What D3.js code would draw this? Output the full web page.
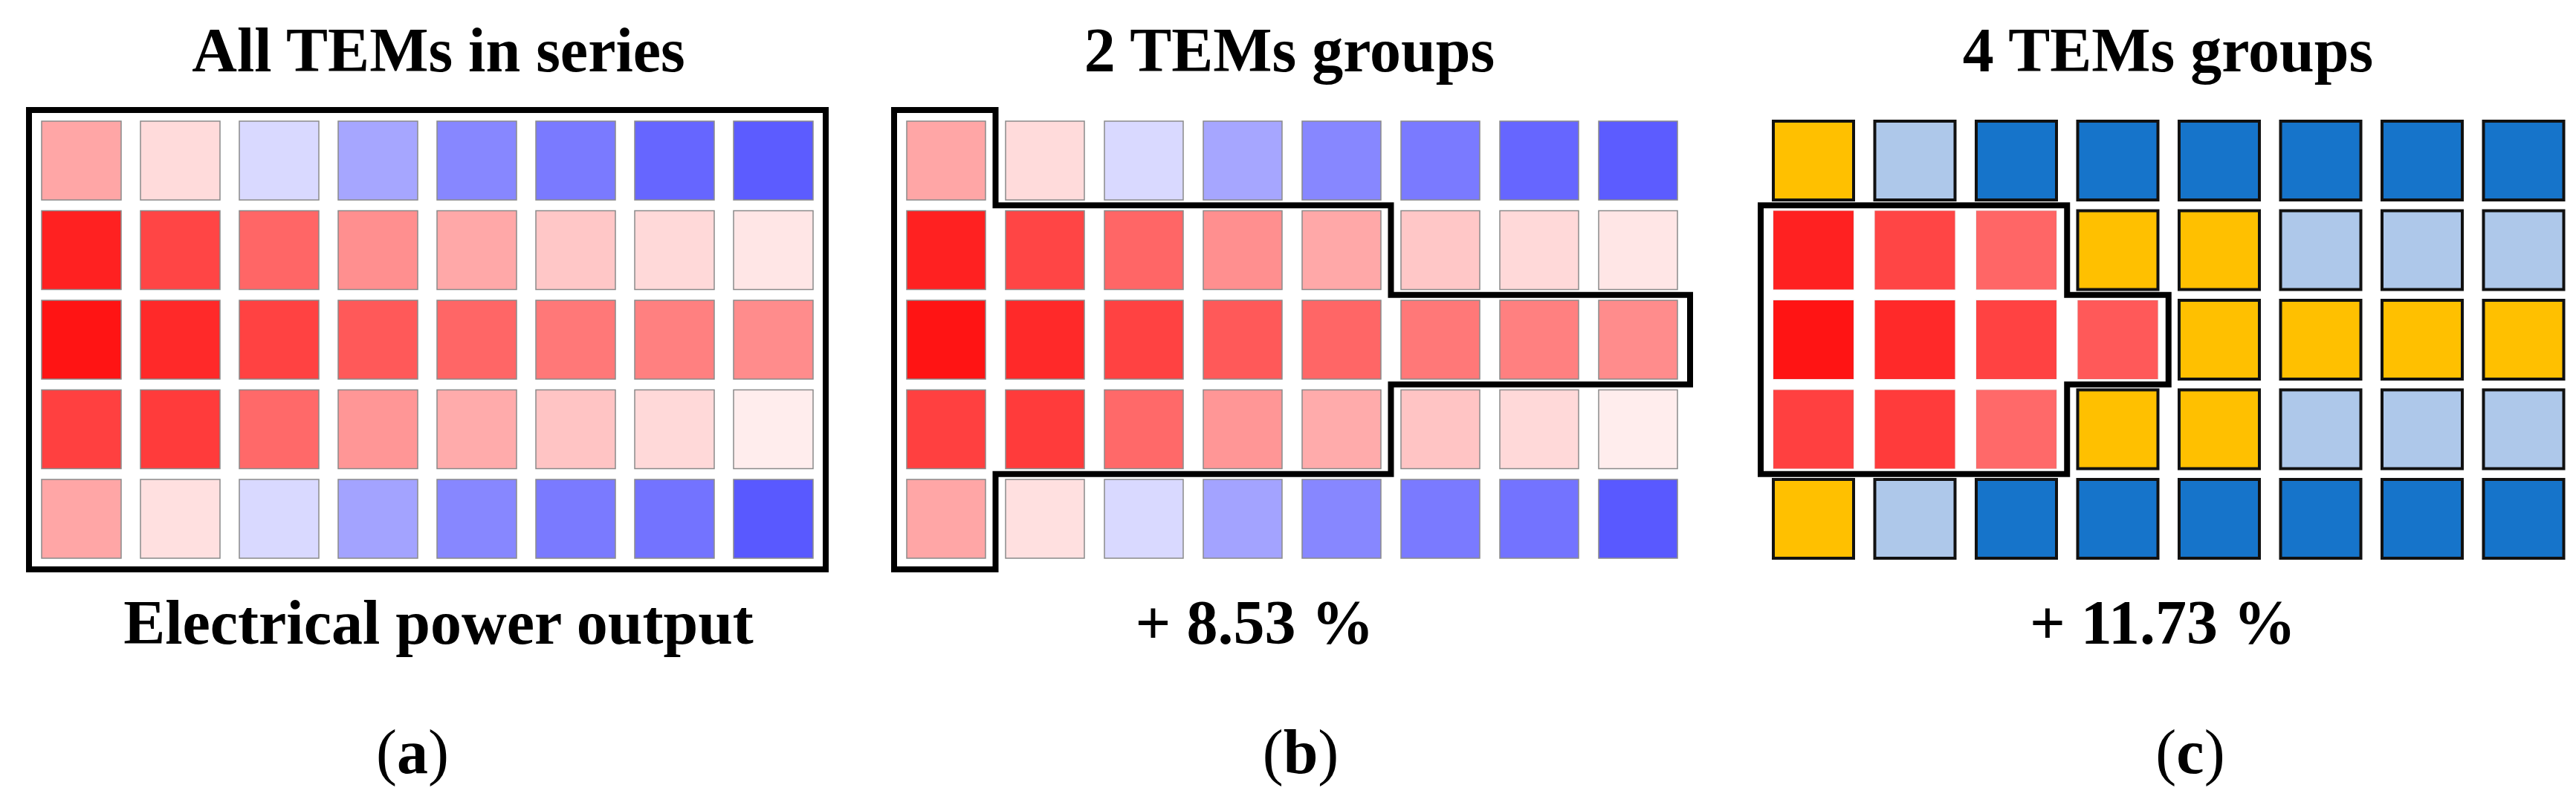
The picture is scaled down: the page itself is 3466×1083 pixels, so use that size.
<!DOCTYPE html>
<html><head><meta charset="utf-8">
<script src="https://cdn.jsdelivr.net/npm/d3@7"></script>
<style>body{margin:0;background:#fff}</style>
</head><body>
<svg id="chart" width="3466" height="1083"></svg>
<script>
// normalized power values per TEM (positive = red, negative = blue)
const row0 = [0.35, 0.14, -0.15, -0.35, -0.47, -0.52, -0.6, -0.64];
const row1 = [0.87, 0.73, 0.6, 0.44, 0.34, 0.22, 0.15, 0.1];
const row2 = [0.92, 0.84, 0.74, 0.65, 0.6, 0.53, 0.5, 0.45];
const row3 = [0.75, 0.77, 0.59, 0.41, 0.33, 0.23, 0.15, 0.07];
const row4 = [0.35, 0.12, -0.15, -0.36, -0.47, -0.52, -0.55, -0.65];
const rows = [row0, row1, row2, row3, row4];

// groups for 4 TEMs groups: 0 = hot group (keeps red), 1 gold, 2 light blue, 3 dark blue
const groups4 = [
  [1, 2, 3, 3, 3, 3, 3, 3],
  [0, 0, 0, 1, 1, 2, 2, 2],
  [0, 0, 0, 0, 1, 1, 1, 1],
  [0, 0, 0, 1, 1, 2, 2, 2],
  [1, 2, 3, 3, 3, 3, 3, 3]
];
const groupColors = {1: "#FFC000", 2: "#AEC8EA", 3: "#1674CA"};

const titles = ["All TEMs in series", "2 TEMs groups", "4 TEMs groups"];
const notes = ["Electrical power output", "+ 8.53 %", "+ 11.73 %"];
const letters = ["a", "b", "c"];

// outlines as [col boundary, row boundary] vertices (boundary k = before column/row k)
const outlineB = [[0,0],[1,0],[1,1],[5,1],[5,2],[8,2],[8,3],[5,3],[5,4],[1,4],[1,5],[0,5]];
const outlineC = [[0,1],[3,1],[3,2],[4,2],[4,3],[3,3],[3,4],[0,4]];

const svg = d3.select("#chart");
const color = d3.scaleLinear().domain([-1, 0, 1]).range(["#0000FF", "#FFFFFF", "#FF0000"]);

const panels = [
  {x0: 56, pitch: 133, w: 107, cx: 590},
  {x0: 1220, pitch: 133, w: 106, cx: 1735},
  {x0: 2386, pitch: 136.5, w: 108, cx: 2917}
];
const y = d3.scaleLinear().domain([0, 1]).range([163, 283.5]);
const cellH = 106;
const font = "'Liberation Serif', 'DejaVu Serif', serif";

panels.forEach((p, pi) => {
  const x = d3.scaleLinear().domain([0, 1]).range([p.x0, p.x0 + p.pitch]);
  const g = svg.append("g");
  const cells = [];
  rows.forEach((r, ri) => r.forEach((v, ci) => cells.push({ri, ci, v})));

  g.selectAll("rect.cell").data(cells).join("rect")
    .attr("x", d => x(d.ci)).attr("y", d => y(d.ri))
    .attr("width", p.w).attr("height", cellH)
    .attr("fill", d => {
      if (pi === 2 && groups4[d.ri][d.ci] > 0) return groupColors[groups4[d.ri][d.ci]];
      return color(d.v);
    })
    .attr("stroke", d => (pi === 2 && groups4[d.ri][d.ci] > 0) ? "#111" : "#8a8a8a")
    .attr("stroke-width", d => (pi === 2 && groups4[d.ri][d.ci] > 0) ? 4 : 1.5)
    .attr("stroke-opacity", d => (pi === 2 && groups4[d.ri][d.ci] === 0) ? 0.15 : 1);

  // boundary positions: midpoints of gaps, outer edges pushed outward
  const gapX = p.pitch - p.w, gapY = (y(1) - y(0)) - cellH;
  const bx = k => k === 0 ? x(0) - 17 : k === 8 ? x(7) + p.w + 17 : x(k) - gapX / 2;
  const by = k => k === 0 ? y(0) - 15 : k === 5 ? y(4) + cellH + 15 : y(k) - gapY / 2;

  const line = d3.line().x(d => bx(d[0])).y(d => by(d[1])).curve(d3.curveLinearClosed);
  let outline = null;
  if (pi === 0) outline = [[0,0],[8,0],[8,5],[0,5]];
  if (pi === 1) outline = outlineB;
  if (pi === 2) outline = outlineC;
  g.append("path").attr("d", line(outline))
    .attr("fill", "none").attr("stroke", "#000").attr("stroke-width", 8)
    .attr("stroke-linejoin", "miter");

  g.append("text").attr("x", p.cx).attr("y", 96)
    .attr("text-anchor", "middle").attr("font-family", font)
    .attr("font-weight", "bold").attr("font-size", 84).text(titles[pi]);

  g.append("text").attr("x", pi === 1 ? 1688 : pi === 2 ? 2910 : p.cx).attr("y", 866)
    .attr("text-anchor", "middle").attr("font-family", font)
    .attr("font-weight", "bold").attr("font-size", 84).text(notes[pi]);

  const lt = g.append("text").attr("x", pi === 0 ? 555 : pi === 1 ? 1750 : 2947).attr("y", 1040)
    .attr("text-anchor", "middle").attr("font-family", font).attr("font-size", 84);
  lt.append("tspan").text("(");
  lt.append("tspan").attr("font-weight", "bold").text(letters[pi]);
  lt.append("tspan").text(")");
});
</script>
</body></html>
